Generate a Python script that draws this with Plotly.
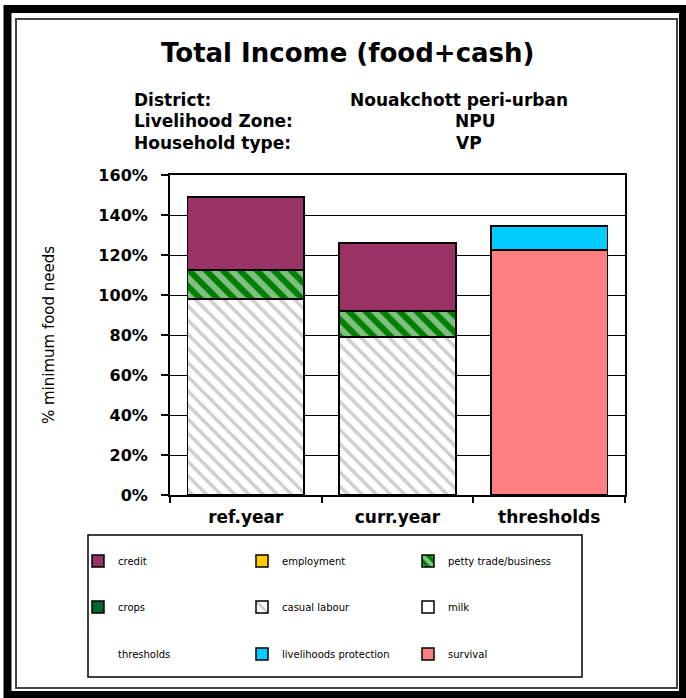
import plotly.graph_objects as go

# ---------------- data ----------------
categories = ["ref.year", "curr.year", "thresholds"]
casual_labour = [98, 79, None]
petty_trade = [14.5, 13, None]
credit = [36.5, 34, None]
survival = [None, None, 122.5]
livelihoods_protection = [None, None, 12]
employment = [None, None, None]
crops = [None, None, None]
milk = [None, None, None]
y_ticks = [0, 20, 40, 60, 80, 100, 120, 140, 160]

W, H = 686, 698
L, R, T, B = 170, 625, 175, 495  # plot area pixels


def px(x):
    return (x - L) / (R - L)


def py(y):
    return (B - y) / (B - T)


FONT = "DejaVu Sans"
fig = go.Figure()
line = dict(color="black", width=1.5)

fig.add_bar(x=categories, y=casual_labour, name="casual labour", legend="legend5",
            marker=dict(color="white", line=line,
                        pattern=dict(shape="\\", fgcolor="#a0a0a0", bgcolor="white",
                                     size=10, solidity=0.35)))
fig.add_bar(x=categories, y=petty_trade, name="petty trade/business", legend="legend3",
            marker=dict(color="#008000", line=line,
                        pattern=dict(shape="\\", fgcolor="white", bgcolor="#008000",
                                     size=12, solidity=0.5)))
fig.add_bar(x=categories, y=credit, name="credit", legend="legend",
            marker=dict(color="#993366", line=line))
fig.add_bar(x=categories, y=survival, name="survival", legend="legend9",
            marker=dict(color="#ff8080", line=line))
fig.add_bar(x=categories, y=livelihoods_protection, name="livelihoods protection", legend="legend8",
            marker=dict(color="#00ccff", line=line))
fig.add_bar(x=categories, y=employment, name="employment", legend="legend2",
            marker=dict(color="#ffcc00", line=line))
fig.add_bar(x=categories, y=crops, name="crops", legend="legend4",
            marker=dict(color="#006633", line=line))
fig.add_bar(x=categories, y=milk, name="milk", legend="legend6",
            marker=dict(color="white", line=line))
fig.add_bar(x=categories, y=[None, None, None], name="thresholds", legend="legend7",
            marker=dict(color="rgba(0,0,0,0)", line=dict(width=0)))

# legends: 3 columns x 3 rows
col_x = [78, 242, 408]
row_y = [561, 607, 654]
legend_layout = {}
for i in range(9):
    r, c = divmod(i, 3)
    key = "legend" if i == 0 else f"legend{i+1}"
    legend_layout[key] = dict(x=px(col_x[c]), y=py(row_y[r]), xanchor="left", yanchor="middle",
                              bgcolor="rgba(0,0,0,0)", borderwidth=0,
                              font=dict(family=FONT, size=10, color="black"))

shapes = [
    # outer black frame
    dict(type="rect", xref="paper", yref="paper", x0=px(7.5), x1=px(683), y0=py(9), y1=py(695),
         line=dict(color="black", width=8)),
    # inner frame
    dict(type="rect", xref="paper", yref="paper", x0=px(16), x1=px(677), y0=py(19), y1=py(688),
         line=dict(color="#444444", width=2)),
    # legend box
    dict(type="rect", xref="paper", yref="paper", x0=px(88), x1=px(582), y0=py(535), y1=py(677),
         line=dict(color="black", width=1.5)),
]

annotations = [
    dict(text="<b>Total Income (food+cash)</b>", x=px(347), y=py(53), xanchor="center", yanchor="middle",
         font=dict(family=FONT, size=26, color="black")),
]
labels = [("District:", "Nouakchott peri-urban", 100, 348),
          ("Livelihood Zone:", "NPU", 121, 453),
          ("Household type:", "VP", 143, 454)]
for lab, val, yy, xv in labels:
    annotations.append(dict(text=f"<b>{lab}</b>", x=px(132), y=py(yy), xanchor="left", yanchor="middle",
                            font=dict(family=FONT, size=17, color="black")))
    annotations.append(dict(text=f"<b>{val}</b>", x=px(xv), y=py(yy), xanchor="left", yanchor="middle",
                            font=dict(family=FONT, size=17, color="black")))
for a in annotations:
    a.update(xref="paper", yref="paper", showarrow=False)

fig.update_layout(
    width=W, height=H,
    margin=dict(l=L, r=W - R, t=T, b=H - B, pad=0),
    paper_bgcolor="white", plot_bgcolor="white",
    barmode="stack", bargap=0.23,
    shapes=shapes, annotations=annotations,
    showlegend=True,
    **legend_layout,
)
fig.update_xaxes(type="category", tickson="boundaries", ticks="outside", ticklen=6, tickcolor="black",
                 tickwidth=1.5, showline=True, linecolor="black", linewidth=2, mirror=True,
                 showgrid=False, ticklabelstandoff=6,
                 tickfont=dict(family=FONT, size=17, color="black", weight="bold"))
fig.update_yaxes(range=[0, 160], tickvals=y_ticks, ticktext=[f"{v}%" for v in y_ticks],
                 ticks="outside", ticklen=7, tickcolor="black", tickwidth=1.5,
                 showline=True, linecolor="black", linewidth=2, mirror=True,
                 showgrid=True, gridcolor="black", gridwidth=1, zeroline=False,
                 ticklabelstandoff=10,
                 tickfont=dict(family=FONT, size=16, color="black", weight="bold"),
                 title=dict(text="% minimum food needs", standoff=40,
                            font=dict(family=FONT, size=15, color="black")))

fig.write_html("out.html", config={"displayModeBar": False},
               post_script="document.body.style.margin='0';")
